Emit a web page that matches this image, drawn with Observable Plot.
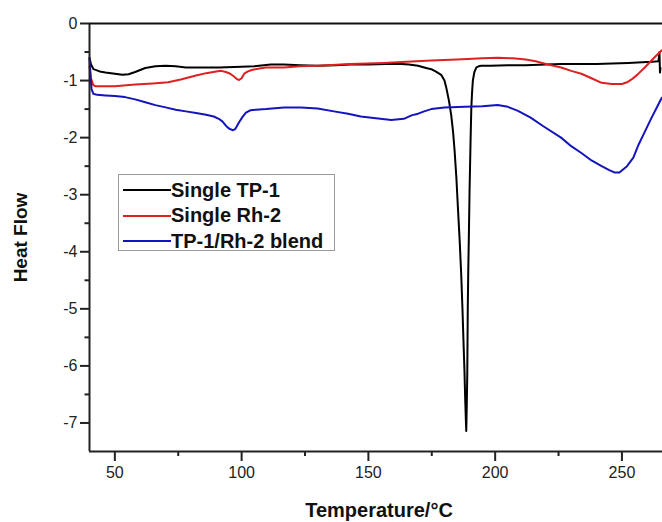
<!DOCTYPE html>
<html><head><meta charset="utf-8">
<script src="https://cdn.jsdelivr.net/npm/d3@7"></script>
<script src="https://cdn.jsdelivr.net/npm/@observablehq/plot@0.6"></script>
<style>
body{margin:0;background:#fff;}
#wrap{position:relative;width:662px;height:522px;font-family:"Liberation Sans",Arial,sans-serif;}
#legend{position:absolute;left:118px;top:174px;width:217px;height:77px;border:1px solid #9a9a9a;background:#fff;box-sizing:border-box;}
.row{position:absolute;left:4px;height:24px;display:flex;align-items:center;}
.sw{width:48px;height:0;border-top:2px solid;}
.lab{font-weight:bold;font-size:20px;color:#111;margin-left:0px;white-space:nowrap;}
</style></head>
<body><div id="wrap"></div>
<script>
const seriesNames = ["Single TP-1", "Single Rh-2", "TP-1/Rh-2 blend"];
const seriesColors = ["#000000", "#dd2020", "#1414bd"];

const xTicks = [50, 100, 150, 200, 250];
const xMinor = [75, 125, 175, 225];
const yTicks = [0, -1, -2, -3, -4, -5, -6, -7];
const yMinor = [-0.5, -1.5, -2.5, -3.5, -4.5, -5.5, -6.5];

const tp1T = [40, 40.6, 41.6, 44, 46.3, 50, 53, 55.4, 58, 62, 66, 70, 74, 78, 85, 91, 100, 105, 111.5, 116.7, 123, 130, 137, 143, 150, 157, 163, 166, 169.6, 172, 173.6, 174.8, 176.5, 178.7, 180, 180.7, 181.8, 182.7, 183.4, 184, 184.7, 185.3, 186, 186.6, 187.1, 187.5, 187.9, 188.2, 188.45, 188.6, 188.8, 189, 189.2, 189.4, 189.6, 189.9, 190.3, 190.6, 190.9, 191.2, 191.8, 192.6, 193.5, 194.5, 198, 205, 212, 220, 226, 233, 240, 246, 252.6, 258, 262, 264.4, 264.8, 265.0, 265.2];
const tp1Y = [-0.6, -0.72, -0.8, -0.84, -0.86, -0.88, -0.9, -0.89, -0.85, -0.78, -0.75, -0.74, -0.75, -0.77, -0.77, -0.77, -0.76, -0.75, -0.72, -0.72, -0.73, -0.74, -0.73, -0.72, -0.72, -0.71, -0.71, -0.72, -0.74, -0.77, -0.79, -0.8, -0.84, -0.9, -1.0, -1.12, -1.36, -1.62, -1.9, -2.23, -2.7, -3.22, -3.8, -4.39, -5.0, -5.56, -6.1, -6.61, -6.95, -7.14, -6.7, -6.14, -4.98, -4.3, -3.8, -2.93, -2.05, -1.47, -1.2, -1.0, -0.85, -0.77, -0.75, -0.74, -0.74, -0.73, -0.73, -0.72, -0.71, -0.71, -0.71, -0.7, -0.69, -0.68, -0.67, -0.66, -0.5, -0.86, -0.78];

const rh2T = [40, 40.5, 41.5, 42.4, 46, 50, 58, 65, 71, 76, 82, 86, 90, 92, 93.8, 95.5, 97, 98, 99, 100, 101, 102.5, 104.3, 107, 109.6, 116.7, 123, 130, 143, 156, 165, 174.8, 185, 195, 201, 207, 212, 216, 220, 226, 230, 234, 238, 242, 246, 250, 252, 253.8, 256, 259, 262, 265.7];
const rh2Y = [-0.75, -0.95, -1.08, -1.1, -1.1, -1.1, -1.07, -1.05, -1.03, -0.98, -0.91, -0.87, -0.84, -0.83, -0.85, -0.88, -0.93, -0.97, -0.99, -0.96, -0.88, -0.84, -0.81, -0.79, -0.77, -0.77, -0.75, -0.74, -0.71, -0.69, -0.67, -0.65, -0.63, -0.61, -0.6, -0.61, -0.63, -0.66, -0.71, -0.77, -0.83, -0.88, -0.96, -1.04, -1.06, -1.06, -1.03, -0.98, -0.9, -0.77, -0.63, -0.47];

const blendT = [40, 40.4, 40.8, 41.5, 43, 46.3, 50, 54, 58, 62, 66, 70, 74, 78, 82, 86, 89, 91, 92.5, 93.8, 95, 96.4, 97.5, 99, 100.3, 101.7, 103.5, 105.6, 109.6, 116.7, 123.4, 130, 136.4, 142, 147, 153, 159, 164, 167, 169.6, 172, 174.8, 180, 188, 195, 201, 205, 209, 214, 219, 226, 230, 234, 238, 242, 245, 247, 249, 252, 254.5, 256.6, 259, 261.8, 264, 265.7];
const blendY = [-0.62, -0.9, -1.15, -1.23, -1.25, -1.26, -1.27, -1.29, -1.33, -1.38, -1.43, -1.47, -1.51, -1.54, -1.57, -1.6, -1.63, -1.67, -1.72, -1.79, -1.84, -1.87, -1.85, -1.73, -1.64, -1.56, -1.52, -1.51, -1.5, -1.47, -1.47, -1.49, -1.54, -1.58, -1.63, -1.66, -1.69, -1.67, -1.61, -1.58, -1.54, -1.5, -1.47, -1.46, -1.45, -1.43, -1.46, -1.53, -1.65, -1.8, -2.0, -2.15, -2.27, -2.4, -2.5, -2.57, -2.61, -2.61, -2.5, -2.35, -2.12, -1.9, -1.64, -1.45, -1.3];

const toRows = (T, Y) => T.map((t, i) => ({t, v: Y[i]}));
const series = [toRows(tp1T, tp1Y), toRows(rh2T, rh2Y), toRows(blendT, blendY)];

const fmt = d => String(d);
const chart = Plot.plot({
  width: 662, height: 522,
  marginLeft: 89, marginRight: 0, marginTop: 23, marginBottom: 71,
  x: {domain: [40, 266]},
  y: {domain: [-7.5, 0]},
  style: {fontFamily: "Liberation Sans, Arial, sans-serif", fontSize: "16px", color: "#222", background: "#fff", overflow: "visible"},
  marks: [
    Plot.axisX({ticks: xMinor, tickSize: 5, tickFormat: () => "", strokeWidth: 2, label: null}),
    Plot.axisX({ticks: xTicks, tickSize: 10, tickPadding: 5, fontSize: 16, strokeWidth: 2, tickFormat: fmt, label: null}),
    Plot.axisY({ticks: yMinor, tickSize: 4.5, tickFormat: () => "", strokeWidth: 2, label: null}),
    Plot.axisY({ticks: yTicks, tickSize: 9, tickPadding: 3, fontSize: 16, strokeWidth: 2, tickFormat: fmt, label: null}),
    ...series.map((rows, i) => Plot.line(rows, {x: "t", y: "v", stroke: seriesColors[i], strokeWidth: 2})),
    Plot.ruleX([40], {stroke: "#222", strokeWidth: 2}),
    Plot.ruleY([-7.5], {stroke: "#222", strokeWidth: 2}),
    Plot.ruleY([0], {stroke: "#111", strokeWidth: 2}),
    Plot.text(["Heat Flow"], {text: d => d, frameAnchor: "left", textAnchor: "middle", lineAnchor: "middle", dx: -69, rotate: -90, fontSize: 19, fontWeight: "bold", fill: "#111"}),
    Plot.text(["Temperature/°C"], {text: d => d, frameAnchor: "bottom", lineAnchor: "middle", dx: 3, dy: 59, fontSize: 20, fontWeight: "bold", fill: "#111"})
  ]
});
const wrap = document.getElementById("wrap");
wrap.appendChild(chart);

const legend = document.createElement("div");
legend.id = "legend";
seriesNames.forEach((name, i) => {
  const row = document.createElement("div");
  row.className = "row";
  row.style.top = (3 + i * 25.5) + "px";
  const sw = document.createElement("span");
  sw.className = "sw";
  sw.style.borderTopColor = seriesColors[i];
  const lab = document.createElement("span");
  lab.className = "lab";
  lab.textContent = name;
  row.appendChild(sw); row.appendChild(lab);
  legend.appendChild(row);
});
wrap.appendChild(legend);
</script></body></html>
